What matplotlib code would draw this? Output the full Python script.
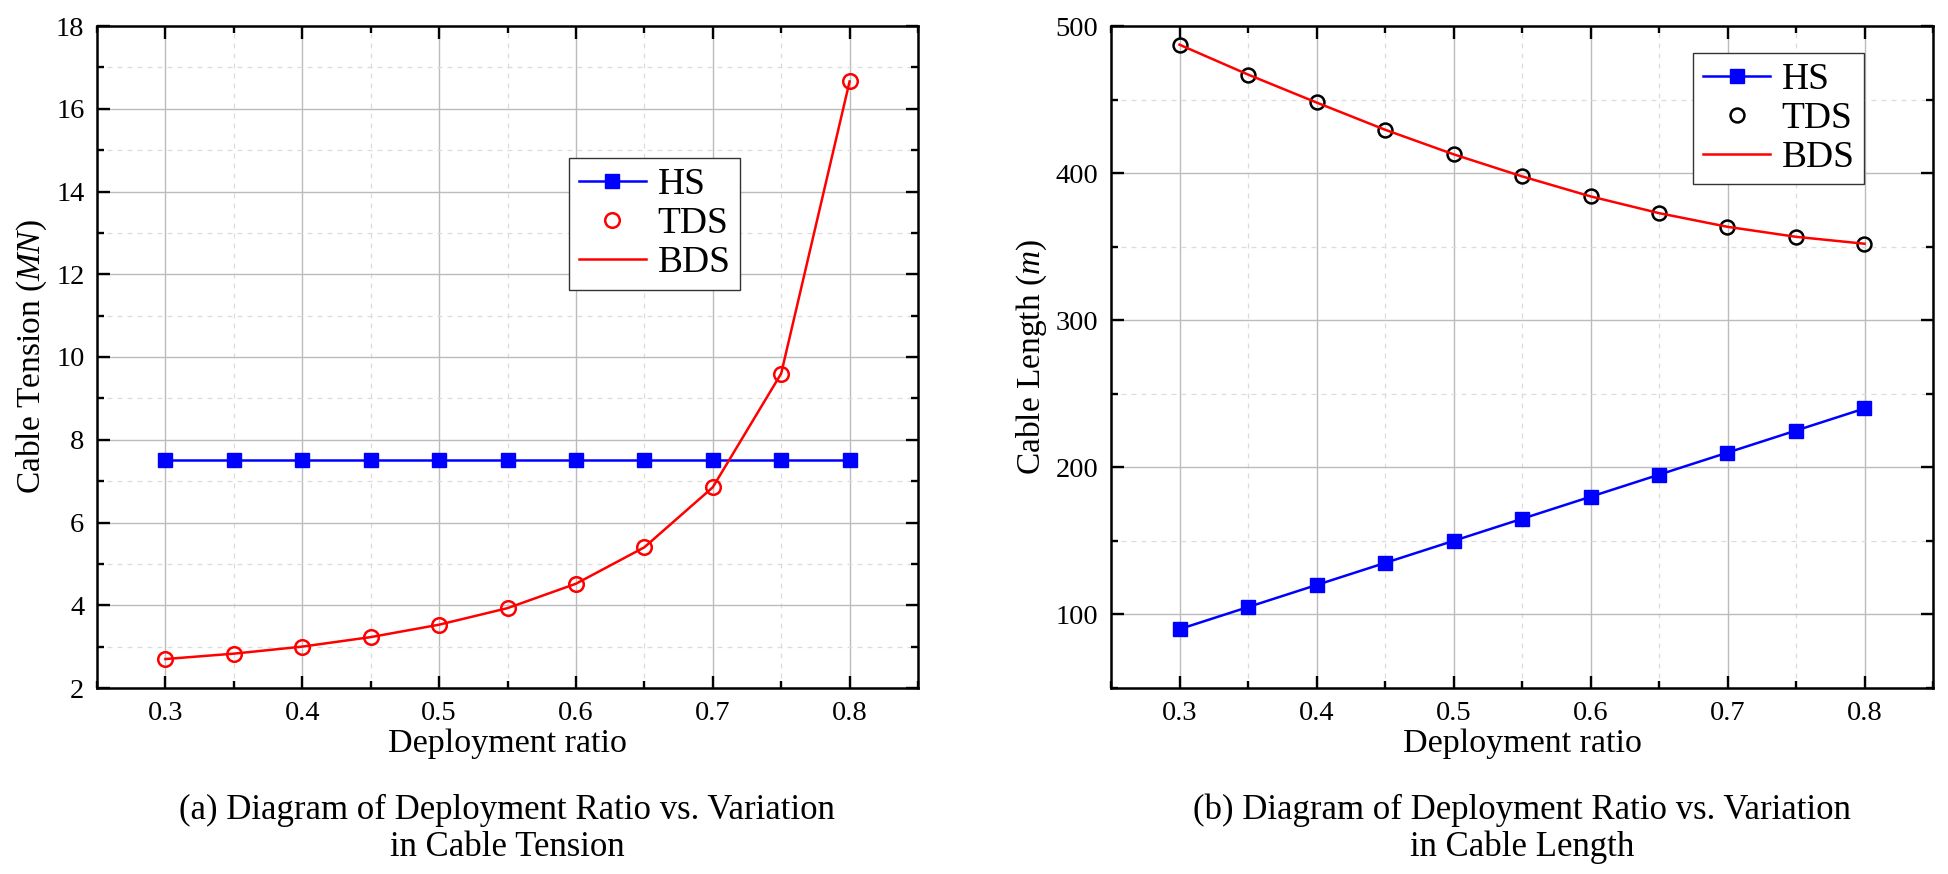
import matplotlib
matplotlib.use("Agg")
import matplotlib.pyplot as plt
from matplotlib.ticker import MultipleLocator

plt.rcParams['font.family'] = ['Liberation Serif', 'DejaVu Serif']
plt.rcParams['mathtext.fontset'] = 'custom'
plt.rcParams['mathtext.rm'] = 'Liberation Serif'
plt.rcParams['mathtext.it'] = 'Liberation Serif:italic'

ratio = [0.3, 0.35, 0.4, 0.45, 0.5, 0.55, 0.6, 0.65, 0.7, 0.75, 0.8]

# (a) cable tension, MN
tension_hs = [7.5, 7.5, 7.5, 7.5, 7.5, 7.5, 7.5, 7.5, 7.5, 7.5, 7.5]
tension_tds = [2.70, 2.83, 3.00, 3.23, 3.53, 3.93, 4.52, 5.40, 6.85, 9.60, 16.66]
tension_bds = [2.70, 2.83, 3.00, 3.23, 3.53, 3.93, 4.52, 5.40, 6.85, 9.60, 16.66]

# (b) cable length, m
length_hs = [90, 105, 120, 135, 150, 165, 180, 195, 210, 225, 240]
length_tds = [487.3, 467.0, 448.0, 429.5, 412.8, 397.8, 384.2, 372.8, 363.5, 356.7, 352.0]
length_bds = [487.3, 467.0, 448.0, 429.5, 412.8, 397.8, 384.2, 372.8, 363.5, 356.7, 352.0]

W, H = 1949, 874
fig = plt.figure(figsize=(W / 100, H / 100), dpi=100)
ax1 = fig.add_axes([97 / W, 1 - 688 / H, 821 / W, 662 / H])
ax2 = fig.add_axes([1111 / W, 1 - 688 / H, 822 / W, 662 / H])


def style_axes(ax, ymaj, ymin):
    ax.set_xlim(0.25, 0.85)
    ax.xaxis.set_major_locator(MultipleLocator(0.1))
    ax.xaxis.set_minor_locator(MultipleLocator(0.05))
    ax.yaxis.set_major_locator(MultipleLocator(ymaj))
    ax.yaxis.set_minor_locator(MultipleLocator(ymin))
    ax.grid(which='major', color='#bcbcbc', linewidth=1.0, linestyle='-')
    ax.grid(which='minor', color='#dcdcdc', linewidth=0.9, linestyle=(0, (4, 4)))
    ax.set_axisbelow(True)
    ax.tick_params(which='both', direction='in', top=True, right=True,
                   labelsize=20.5, width=1.7, pad=9)
    ax.tick_params(which='major', length=9)
    ax.tick_params(which='minor', length=5)
    for s in ax.spines.values():
        s.set_linewidth(1.8)
    ax.set_xlabel('Deployment ratio', fontsize=24.5, labelpad=2)


# left panel
ax1.plot(ratio, tension_hs, color='blue', marker='s', markersize=10.5, linewidth=1.8, label='HS')
ax1.plot(ratio, tension_tds, linestyle='none', marker='o', markersize=10.5,
         markerfacecolor='none', markeredgecolor='red', markeredgewidth=1.8, label='TDS')
ax1.plot(ratio, tension_bds, color='red', linewidth=1.8, label='BDS')
ax1.set_ylim(2, 18)
style_axes(ax1, 2, 1)
ax1.set_ylabel('Cable Tension ($MN$)', fontsize=24, labelpad=5)
leg1 = ax1.legend(loc='upper right', bbox_to_anchor=(0.783, 0.80), borderaxespad=0,
                  fontsize=27, fancybox=False, edgecolor='#333333', framealpha=1,
                  handlelength=1.8, handletextpad=0.3, labelspacing=0.12, borderpad=0.25)
leg1.get_frame().set_linewidth(1.0)

# right panel
ax2.plot(ratio, length_hs, color='blue', marker='s', markersize=10.5, linewidth=1.8, label='HS')
ax2.plot(ratio, length_tds, linestyle='none', marker='o', markersize=10,
         markerfacecolor='none', markeredgecolor='black', markeredgewidth=1.8, label='TDS')
ax2.plot(ratio, length_bds, color='red', linewidth=1.8, label='BDS')
ax2.set_ylim(50, 500)
style_axes(ax2, 100, 50)
ax2.set_ylabel('Cable Length ($m$)', fontsize=24, labelpad=5)
leg2 = ax2.legend(loc='upper right', bbox_to_anchor=(0.916, 0.959), borderaxespad=0,
                  fontsize=27, fancybox=False, edgecolor='#333333', framealpha=1,
                  handlelength=1.8, handletextpad=0.3, labelspacing=0.12, borderpad=0.25)
leg2.get_frame().set_linewidth(1.0)

fig.text(507 / W, 1 - 829 / H,
         '(a) Diagram of Deployment Ratio vs. Variation\nin Cable Tension',
         ha='center', va='center', fontsize=25, linespacing=1.15)
fig.text(1522 / W, 1 - 829 / H,
         '(b) Diagram of Deployment Ratio vs. Variation\nin Cable Length',
         ha='center', va='center', fontsize=25, linespacing=1.15)

fig.savefig('out.png', dpi=100)
